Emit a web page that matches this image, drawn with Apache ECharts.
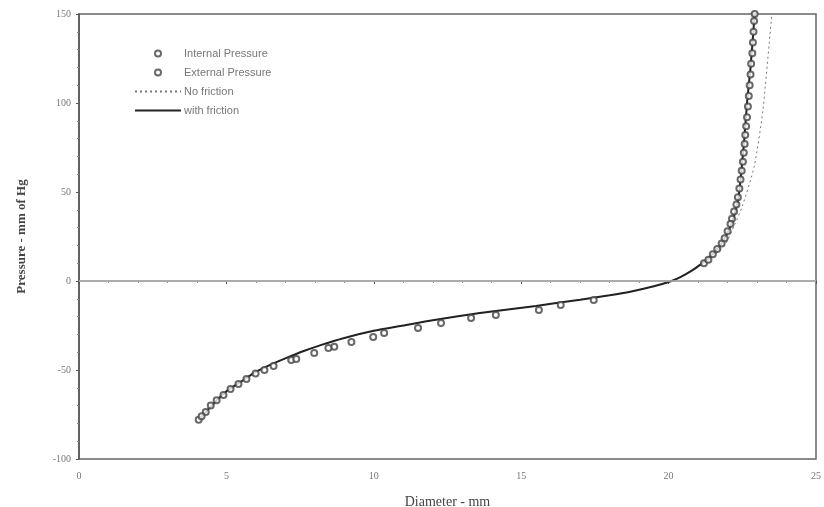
<!DOCTYPE html>
<html>
<head>
<meta charset="utf-8">
<script src="https://cdn.jsdelivr.net/npm/echarts@6/dist/echarts.min.js"></script>
<style>
  html, body { margin: 0; padding: 0; background: #fff; }
  #main { width: 824px; height: 507px; }
</style>
</head>
<body>
<div id="main"></div>
<script>
// diameter (mm) / pressure (mm Hg) pairs
var withFriction = [
  [4.06, -78], [4.5, -70], [5.0, -62], [5.5, -56.5], [5.9, -52], [6.5, -47], [7.0, -43.5],
  [7.6, -39.5], [8.2, -36], [9.0, -32], [10.0, -28], [11.0, -25], [12.0, -22],
  [13.6, -18], [15.5, -14], [17.0, -10.5], [18.0, -8], [18.7, -6], [19.5, -3],
  [20.1, 0], [20.4, 2.2], [20.8, 6], [21.1, 9.5], [21.4, 13.5], [21.75, 20],
  [22.08, 30], [22.28, 40], [22.38, 48], [22.46, 60], [22.57, 80],
  [22.66, 100], [22.78, 120], [22.92, 150]
];
var noFriction = [
  [4.06, -78], [4.5, -70], [5.0, -62], [5.5, -56.5], [5.9, -52], [6.5, -47], [7.0, -43.5],
  [7.6, -39.5], [8.2, -36], [9.0, -32], [10.0, -28], [11.0, -25], [12.0, -22],
  [13.6, -18], [15.5, -14], [17.0, -10.5], [18.0, -8], [18.7, -6], [19.5, -3],
  [20.1, 0], [20.4, 2.2], [20.8, 6], [21.3, 11], [21.9, 20], [22.25, 32],
  [22.5, 42], [22.9, 64], [23.2, 96], [23.5, 150]
];
var internalPressure = [
  [4.06, -78], [4.3, -73.6], [4.67, -67], [5.14, -60.7], [5.68, -55], [6.29, -50],
  [7.2, -44.4], [7.98, -40.4], [8.66, -37], [9.98, -31.5], [11.5, -26.4],
  [13.3, -20.8], [15.6, -16.3], [17.46, -10.7],
  [21.2, 10], [21.5, 15], [21.8, 21], [22.0, 28], [22.15, 35], [22.3, 43],
  [22.4, 52], [22.48, 62], [22.55, 72], [22.6, 82], [22.66, 92], [22.72, 104],
  [22.78, 116], [22.84, 128], [22.88, 140], [22.92, 150]
];
var externalPressure = [
  [4.16, -76], [4.47, -70], [4.9, -64], [5.41, -57.9], [5.99, -52], [6.6, -47.8],
  [7.37, -43.8], [8.46, -37.6], [9.24, -34.3], [10.35, -29.2], [12.28, -23.6],
  [14.14, -19.1], [16.34, -13.5],
  [21.35, 12], [21.65, 18], [21.9, 24], [22.1, 32], [22.22, 39], [22.35, 47],
  [22.44, 57], [22.52, 67], [22.58, 77], [22.63, 87], [22.69, 98], [22.75, 110],
  [22.8, 122], [22.86, 134], [22.9, 146]
];

var chart = echarts.init(document.getElementById('main'));

var tickFont = { fontFamily: 'Liberation Serif', fontSize: 10, color: '#777' };

var option = {
  animation: false,
  backgroundColor: '#fff',
  grid: {
    left: 79, right: 8, top: 14, bottom: 48,
    outerBoundsMode: 'none',
    show: true, borderColor: '#666', borderWidth: 1.5
  },
  legend: {
    orient: 'vertical',
    left: 129, top: 43,
    itemWidth: 46, itemHeight: 6, itemGap: 8,
    textStyle: { fontFamily: 'Liberation Sans', fontSize: 11, color: '#777', padding: [0, 0, 0, -2] },
    data: [
      'Internal Pressure',
      'External Pressure',
      { name: 'No friction', itemStyle: { opacity: 0 } },
      { name: 'with friction', itemStyle: { opacity: 0 } }
    ]
  },
  xAxis: {
    type: 'value', min: 0, max: 25, interval: 5,
    name: 'Diameter - mm', nameLocation: 'middle', nameGap: 36,
    nameTextStyle: { fontFamily: 'Liberation Serif', fontSize: 14, color: '#444' },
    axisLine: { lineStyle: { color: '#555', width: 1.5 } },
    axisTick: { length: 3, lineStyle: { color: '#555' } },
    minorTick: { show: true, splitNumber: 5, length: 2, lineStyle: { color: '#888' } },
    axisLabel: Object.assign({ margin: 12 }, tickFont),
    splitLine: { show: false }
  },
  yAxis: {
    type: 'value', min: -100, max: 150, interval: 50,
    name: 'Pressure - mm of Hg', nameLocation: 'middle', nameGap: 51,
    nameTextStyle: { fontFamily: 'Liberation Serif', fontSize: 13, color: '#444', fontWeight: 'bold' },
    axisLine: { lineStyle: { color: '#555', width: 1.5 } },
    axisTick: { length: 3, lineStyle: { color: '#555' } },
    minorTick: { show: true, splitNumber: 5, length: 2, lineStyle: { color: '#888' } },
    axisLabel: Object.assign({ margin: 8 }, tickFont),
    splitLine: { show: false }
  },
  series: [
    {
      name: 'Internal Pressure', type: 'scatter', data: internalPressure,
      symbol: 'emptyCircle', symbolSize: 6, z: 4,
      itemStyle: { color: '#444', borderColor: '#444', borderWidth: 1.2 }
    },
    {
      name: 'External Pressure', type: 'scatter', data: externalPressure,
      symbol: 'emptyCircle', symbolSize: 6, z: 4,
      itemStyle: { color: '#444', borderColor: '#444', borderWidth: 1.2 }
    },
    {
      name: 'No friction', type: 'line', data: noFriction,
      symbol: 'none', smooth: 0.2, z: 2,
      lineStyle: { color: '#777', width: 1, type: [2, 3] },
      itemStyle: { color: '#777' },
      markLine: {
        silent: true, symbol: 'none', label: { show: false },
        lineStyle: { color: '#bbb', width: 1.5, type: 'solid' },
        data: [{ yAxis: 0 }]
      }
    },
    {
      name: 'with friction', type: 'line', data: withFriction,
      symbol: 'none', smooth: 0.2, z: 3,
      lineStyle: { color: '#222', width: 2 },
      itemStyle: { color: '#222' }
    }
  ]
};

chart.setOption(option);
</script>
</body>
</html>
